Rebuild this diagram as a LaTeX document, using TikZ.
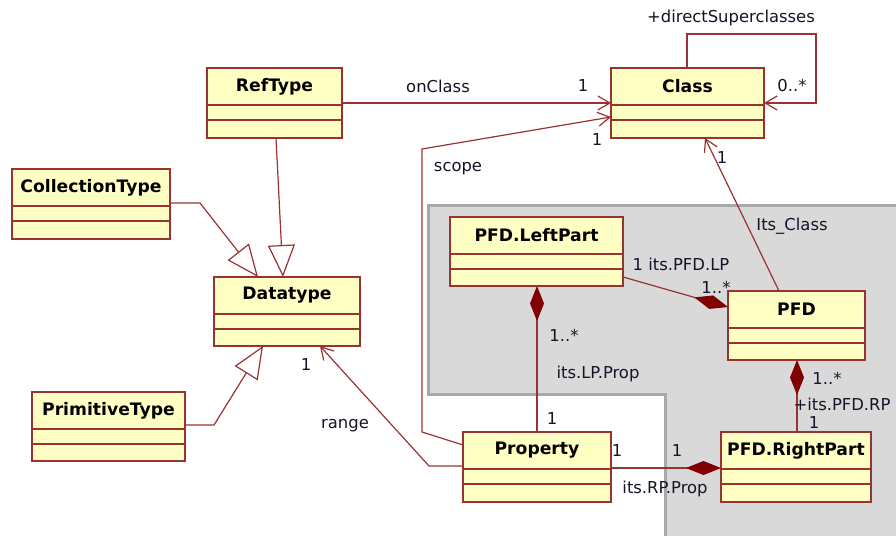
\documentclass[tikz,border=0pt]{standalone}
\usepackage{fontspec}
\setmainfont{DejaVu Sans}
\usetikzlibrary{arrows.meta}
\definecolor{umlred}{HTML}{9A3232}
\definecolor{umlfill}{HTML}{FFFFC4}
\definecolor{comp}{HTML}{800000}
\definecolor{grayfill}{HTML}{D9D9D9}
\definecolor{grayedge}{HTML}{A8A8A8}
\definecolor{txt}{HTML}{141428}
\newcommand\umlclass[6]{%
  \node[umlbox, minimum width={(#4)-(#2)}, minimum height={(#5)-(#3)}] (#1) at ({((#2)+(#4))/2},{((#3)+(#5))/2}) {};
  \node[umltitle] (#1-t) at ({((#2)+(#4))/2},{(#3)+18.5}) {#6};
  \draw[umlred, line width=1.3pt] ([yshift=-37pt]#1.north west) -- ([yshift=-37pt]#1.north east)
       ([yshift=-52pt]#1.north west) -- ([yshift=-52pt]#1.north east);
}
\begin{document}
\begin{tikzpicture}[x=1pt,y=-1pt,
  umlbox/.style={draw=umlred, fill=umlfill, line width=1.3pt, inner sep=0pt, outer sep=0pt},
  umltitle/.style={font=\fontsize{17.2}{19}\selectfont\bfseries, text=black, inner sep=0pt},
  lbl/.style={font=\fontsize{16.4}{18}\selectfont, text=txt, inner sep=0pt},
  conn/.style={draw=umlred, line width=1.2pt},
  nav/.style={conn, -{Straight Barb[length=12pt,width=14pt]}},
  gen/.style={conn, -{Triangle[open,length=32pt,width=27pt]}},
  compo/.style={conn, {Diamond[length=35pt,width=14pt,color=comp,fill=comp]}-},
  compoend/.style={conn, -{Diamond[length=35pt,width=14pt,color=comp,fill=comp]}},
]
\useasboundingbox (0,0) rectangle (896,535);
\clip (0,0) rectangle (896,535);
% grey region
\fill[grayfill] (428,205) -- (905,205) -- (905,545) -- (665,545) -- (665,394) -- (428,394) -- cycle;
\draw[grayedge, line width=3pt] (905,205) -- (428,205) -- (428,394) -- (665,394) -- (665,545);
% classes
\umlclass{Class}{611}{68}{764}{138}{Class}
\umlclass{RefType}{207}{68}{342}{138}{RefType}
\umlclass{CollectionType}{12}{169}{170}{239}{CollectionType}
\umlclass{Datatype}{214}{277}{360}{346}{Datatype}
\umlclass{PrimitiveType}{32}{392}{185}{461}{PrimitiveType}
\umlclass{LeftPart}{450}{217}{623}{286}{PFD.LeftPart}
\umlclass{PFD}{728}{291}{865}{360}{PFD}
\umlclass{Property}{463}{432}{611}{502}{Property}
\umlclass{RightPart}{721}{432}{871}{502}{PFD.RightPart}
% connectors
\draw[nav] ([xshift=76pt]Class.north west) -- ++(0,-34) -- ++(129,0) |- ([yshift=-35pt]Class.north east);
\draw[nav] ([yshift=-35pt]RefType.north east) -- ([yshift=-35pt]Class.north west);
\draw[nav] ([yshift=-13pt]Property.north west) -- (422,432) -- (422,149) -- ([yshift=-49pt]Class.north west);
\draw[nav] ([yshift=-34pt]Property.north west) -- (429,466) -- ([xshift=106pt]Datatype.south west);
\draw[gen] ([xshift=69pt]RefType.south west) -- ([xshift=69pt]Datatype.north west);
\draw[gen] ([yshift=-34pt]CollectionType.north east) -- (200,203) -- ([xshift=44pt]Datatype.north west);
\draw[gen] ([yshift=-33pt]PrimitiveType.north east) -- (214,425) -- ([xshift=49pt]Datatype.south west);
\draw[nav] ([xshift=51pt]PFD.north west) -- ([xshift=94pt]Class.south west);
\draw[compoend] ([yshift=-60pt]LeftPart.north east) -- ([yshift=-16pt]PFD.north west);
\draw[compo] ([xshift=87pt]LeftPart.south west) -- ([xshift=74pt]Property.north west);
\draw[compo] ([xshift=69pt]PFD.south west) -- ([xshift=76pt]RightPart.north west);
\draw[compoend] ([yshift=-36pt]Property.north east) -- ([yshift=-36pt]RightPart.north west);
% labels
\node[lbl] (lsup) at (731,18) {+directSuperclasses};
\node[lbl] (lsupm) at (792,86) {0..*};
\node[lbl] (lon) at (438,86) {onClass};
\node[lbl] (lonm) at (583,86) {1};
\node[lbl] (lscm) at (597,140) {1};
\node[lbl] (lsc) at (458,169) {scope};
\node[lbl] (lcm) at (722,158) {1};
\node[lbl] (lits) at (792,226) {Its\_Class};
\node[lbl] (llp) at (681,264) {1 its.PFD.LP};
\node[lbl] (llpm) at (716,287) {1..*};
\node[lbl] (lprm) at (564,335) {1..*};
\node[lbl] (lpr) at (598,374) {its.LP.Prop};
\node[lbl] (lpr1) at (552,419) {1};
\node[lbl] (lrpm) at (827,378) {1..*};
\node[lbl] (lrp) at (842,404) {+its.PFD.RP};
\node[lbl] (lrp1) at (814,423) {1};
\node[lbl] (lp1) at (617,451) {1};
\node[lbl] (lp2) at (677,451) {1};
\node[lbl] (lrpp) at (665,489) {its.RP.Prop};
\node[lbl] (lrng) at (345,426) {range};
\node[lbl] (lrng1) at (306,365) {1};
\end{tikzpicture}
\end{document}
